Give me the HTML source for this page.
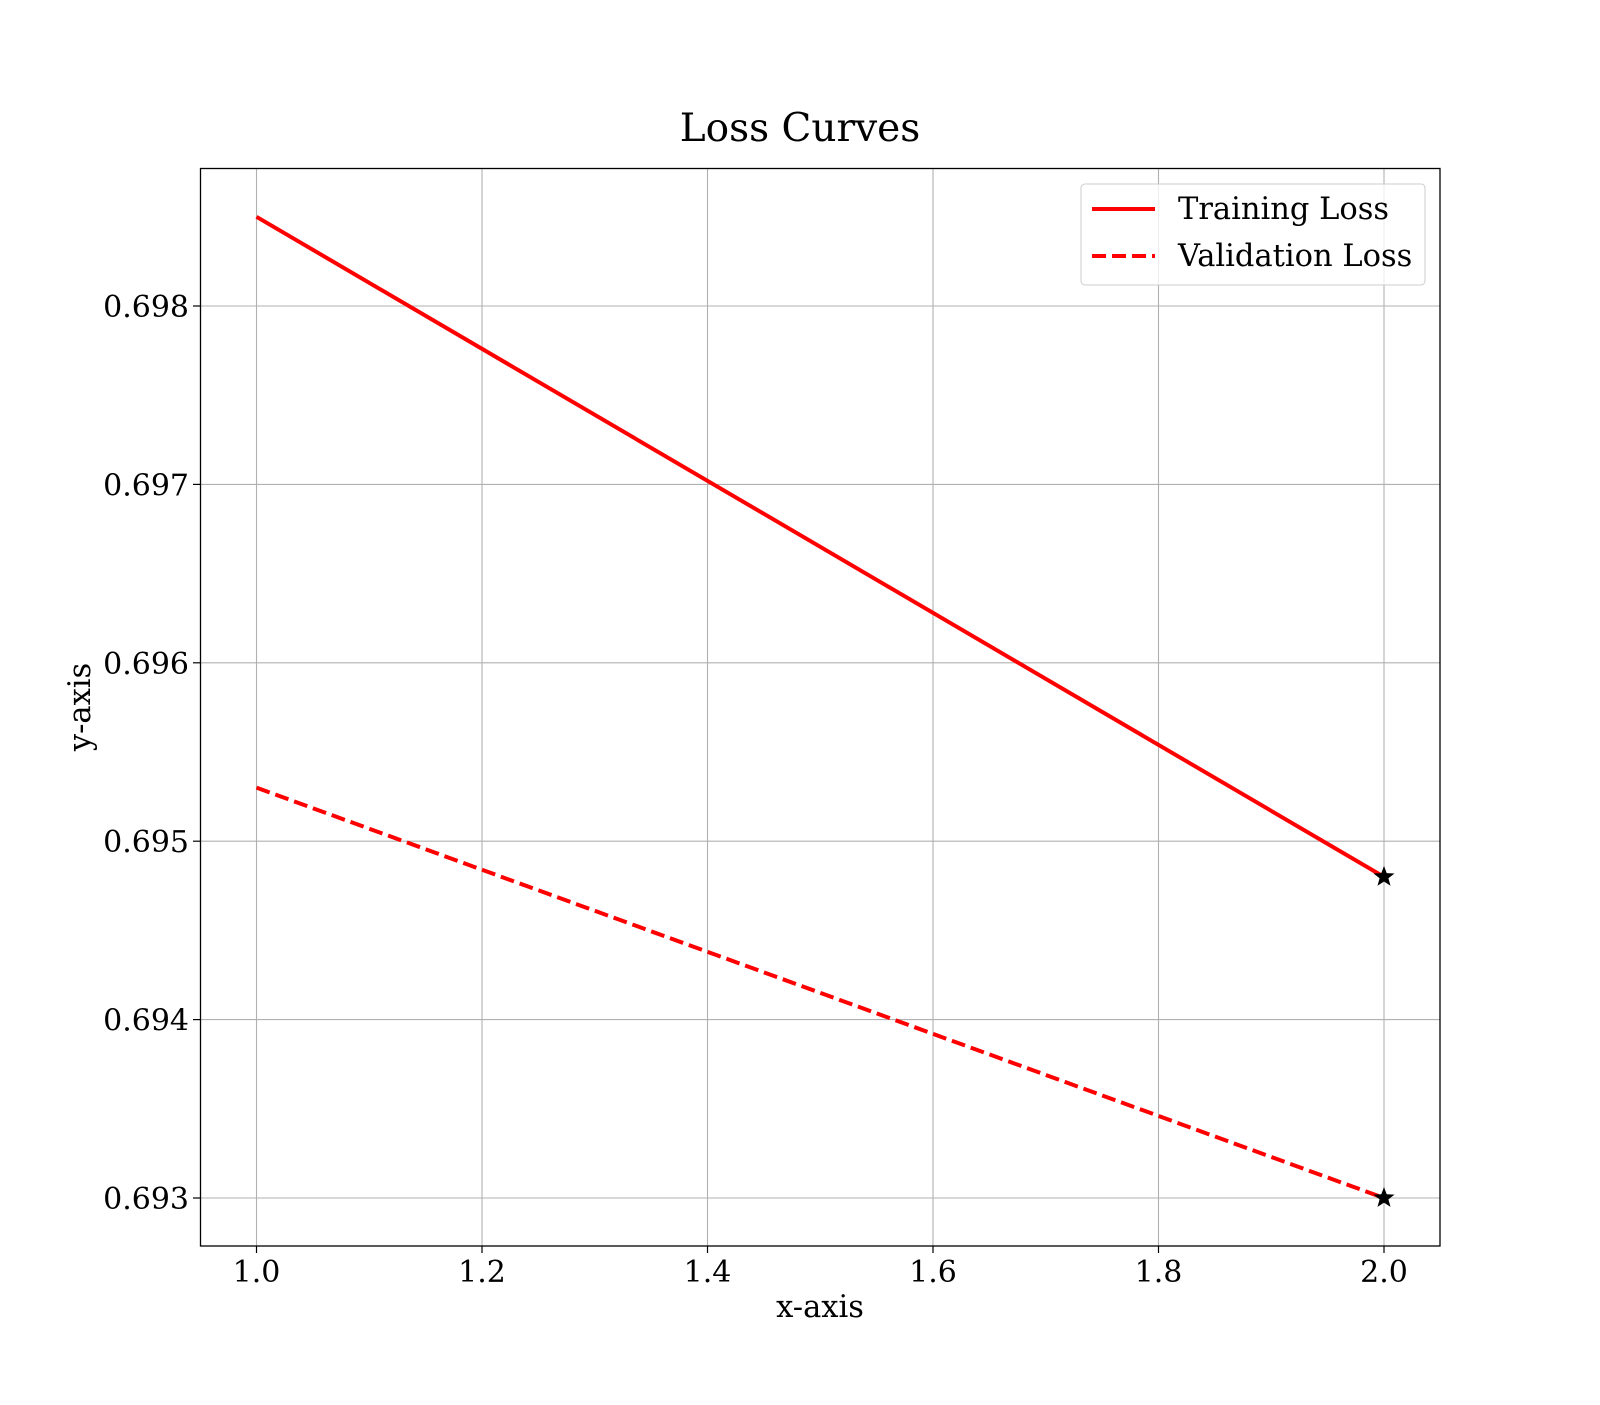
<!DOCTYPE html>
<html><head><meta charset="utf-8"><style>
body{margin:0;background:#fff}
text{font-family:"DejaVu Serif","Liberation Serif",serif;fill:#000}
</style></head><body>
<svg id="chart" width="1600" height="1400" xmlns="http://www.w3.org/2000/svg">
<rect width="1600" height="1400" fill="#fff"/>
<text x="800" y="141" font-size="39" text-anchor="middle">Loss Curves</text>
<g id="grid"></g>
<g id="series"></g>
<rect x="200.5" y="168.5" width="1239.5" height="1077.5" fill="none" stroke="#000" stroke-width="1.3"/>
<g id="ticks"></g>
<text x="820" y="1317" font-size="30.5" text-anchor="middle">x-axis</text>
<text transform="translate(90,707) rotate(-90)" font-size="30.5" text-anchor="middle">y-axis</text>
<g>
<rect x="1081" y="184" width="344" height="101" rx="4" fill="#fff" fill-opacity="0.8" stroke="#ccc" stroke-width="1"/>
<line x1="1092" y1="209" x2="1155" y2="209" stroke="#f00" stroke-width="4"/>
<text x="1178" y="219" font-size="30.5">Training Loss</text>
<line x1="1092" y1="256" x2="1155" y2="256" stroke="#f00" stroke-width="4" stroke-dasharray="14,6"/>
<text x="1178" y="266" font-size="30.5">Validation Loss</text>
</g>
</svg>
<script>
const epochs=[1,2];
const trainLoss=[0.6985,0.6948];
const valLoss=[0.6953,0.6930];
const xTicks=[1.0,1.2,1.4,1.6,1.8,2.0];
const yTicks=[0.693,0.694,0.695,0.696,0.697,0.698];
const NS="http://www.w3.org/2000/svg";
const X=v=>256.5+(v-1)*(1384-256.5);
const Y=v=>1198-(v-0.693)/0.001*178.4;
function mk(t,a,p){const e=document.createElementNS(NS,t);for(const k in a)e.setAttribute(k,a[k]);p.appendChild(e);return e;}
const grid=document.getElementById('grid'),ticks=document.getElementById('ticks'),ser=document.getElementById('series');
xTicks.forEach(v=>{
 const g=mk('line',{x1:X(v),x2:X(v),y1:168,y2:1246,stroke:'#b0b0b0','stroke-width':1.1},grid);
 
 mk('line',{x1:X(v),x2:X(v),y1:1246,y2:1253,stroke:'#000','stroke-width':1.2},ticks);
 const t=mk('text',{x:X(v),y:1282,'font-size':30,'text-anchor':'middle'},ticks);
 
 t.textContent=v.toFixed(1);
});
yTicks.forEach(v=>{
 const g=mk('line',{x1:200,x2:1440,y1:Y(v),y2:Y(v),stroke:'#b0b0b0','stroke-width':1.1},grid);
 
 mk('line',{x1:193,x2:200,y1:Y(v),y2:Y(v),stroke:'#000','stroke-width':1.2},ticks);
 const t=mk('text',{x:189,y:Y(v)+11,'font-size':30,'text-anchor':'end'},ticks);
 
 t.textContent=v.toFixed(3);
});
function star(cx,cy,r){let p=[];for(let i=0;i<10;i++){const a=-Math.PI/2+i*Math.PI/5,rr=i%2?r*0.42:r;p.push((cx+rr*Math.cos(a)).toFixed(1)+','+(cy+rr*Math.sin(a)).toFixed(1));}return p.join(' ');}
[[trainLoss,'training-loss-line',null],[valLoss,'validation-loss-line','14,6']].forEach(([d,n,dash])=>{
 const pts=epochs.map((e,i)=>X(e)+','+Y(d[i])).join(' ');
 const a={points:pts,fill:'none',stroke:'#f00','stroke-width':4};if(dash)a['stroke-dasharray']=dash;
 const l=mk('polyline',a,ser);
 
 const last=d.length-1;
 const s=mk('polygon',{points:star(X(epochs[last]),Y(d[last]),11),fill:'#000'},ser);
 
});
</script>
</body></html>
